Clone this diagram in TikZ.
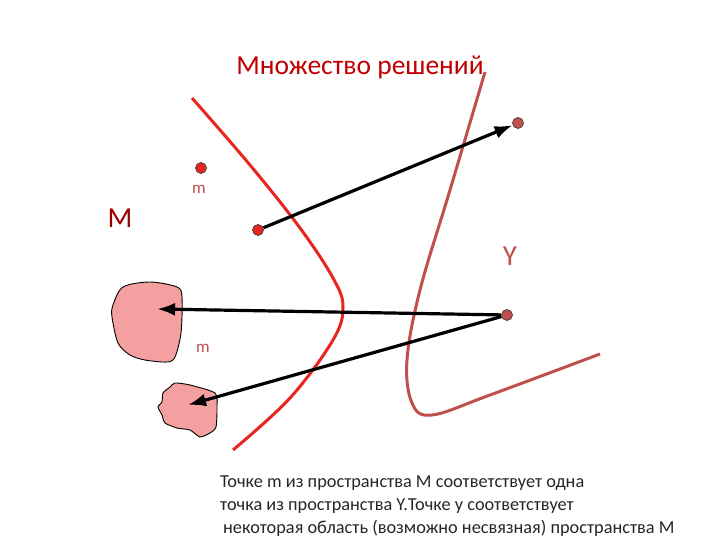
\documentclass[tikz,border=0pt]{standalone}
\usepackage{fontspec}
\setmainfont{Carlito}
\usetikzlibrary{arrows.meta,positioning}
\definecolor{solred}{HTML}{E8251F}
\definecolor{setbrown}{HTML}{C0504D}
\definecolor{titlered}{HTML}{C00000}
\definecolor{blobpink}{HTML}{F4A0A0}

\begin{document}
\begin{tikzpicture}[x=1pt,y=-1pt,>={Latex[length=18pt,width=13pt]},
ptdot/.style={circle,draw=black!75,line width=0.7pt,inner sep=0pt,minimum size=11pt},
maplink/.style={->,line width=3.2pt},
setlabel/.style={inner sep=0pt,text=setbrown},
region/.style={draw=black,line width=0.9pt,fill=blobpink}]
\useasboundingbox (0,0) rectangle (720,540);
\node[text=titlered,font=\fontsize{27.5}{32}\selectfont] (title) at (360,67) {Множество решений};
% the two curves
\draw[solred,line width=3pt] plot[smooth,tension=0.6] coordinates
  {(192,98) (250,165) (300,228) (333,278) (343,307) (333,340) (290,398) (233,450)};
\draw[setbrown,line width=3pt] plot[smooth,tension=0.6] coordinates
  {(485,72) (450,190) (420,290) (407,360) (412,403) (432,415) (490,395) (600,354)};
% regions in M
\draw[region] plot[smooth cycle,tension=0.5] coordinates
  {(123,287) (150,282) (177,287) (182,297) (181,333) (175,357) (167,362) (145,360) (130,355) (118,343) (112,317) (113,305)};
\draw[region] plot[smooth cycle,tension=0.4] coordinates
  {(175,383) (190,385) (215,393) (217,407) (216,427) (210,433) (200,437) (190,430) (177,428) (165,423) (162,415) (158,407) (162,402) (163,393) (170,387)};
\coordinate (blobA) at (157,309);
\coordinate (blobB) at (188,405);
% labels
\node[setlabel,text=titlered!80!black,font=\fontsize{29}{32}\selectfont] (bigM) at (120,218) {M};
\node[setlabel,font=\fontsize{17}{20}\selectfont] (mtop) at (199,189) {m};
\node[setlabel,font=\fontsize{17}{20}\selectfont] (mlow) at (203,348) {m};
\node[setlabel,font=\fontsize{29}{32}\selectfont] (bigY) at (510,256) {Y};
% points
\node[ptdot,fill=solred] (pm) at (201,168) {};
\node[ptdot,fill=solred] (px) at (258,230) {};
\node[ptdot,fill=setbrown] (py) at (518,123) {};
\node[ptdot,fill=setbrown] (pY) at (507,315) {};
% mappings
\draw[maplink] (px)--(py);
\draw[maplink] (pY)--(blobA);
\draw[maplink] (pY)--(blobB);
\node[anchor=north west,align=left,inner sep=0pt,text=black!85,
  font=\fontsize{18.3}{22.8}\selectfont] (note) at (220,476)
  {Точке m из пространства M соответствует одна\\
   точка из пространства Y.Точке y соответствует\\
   \hspace{3pt}некоторая область (возможно несвязная) пространства M};
\end{tikzpicture}
\end{document}
